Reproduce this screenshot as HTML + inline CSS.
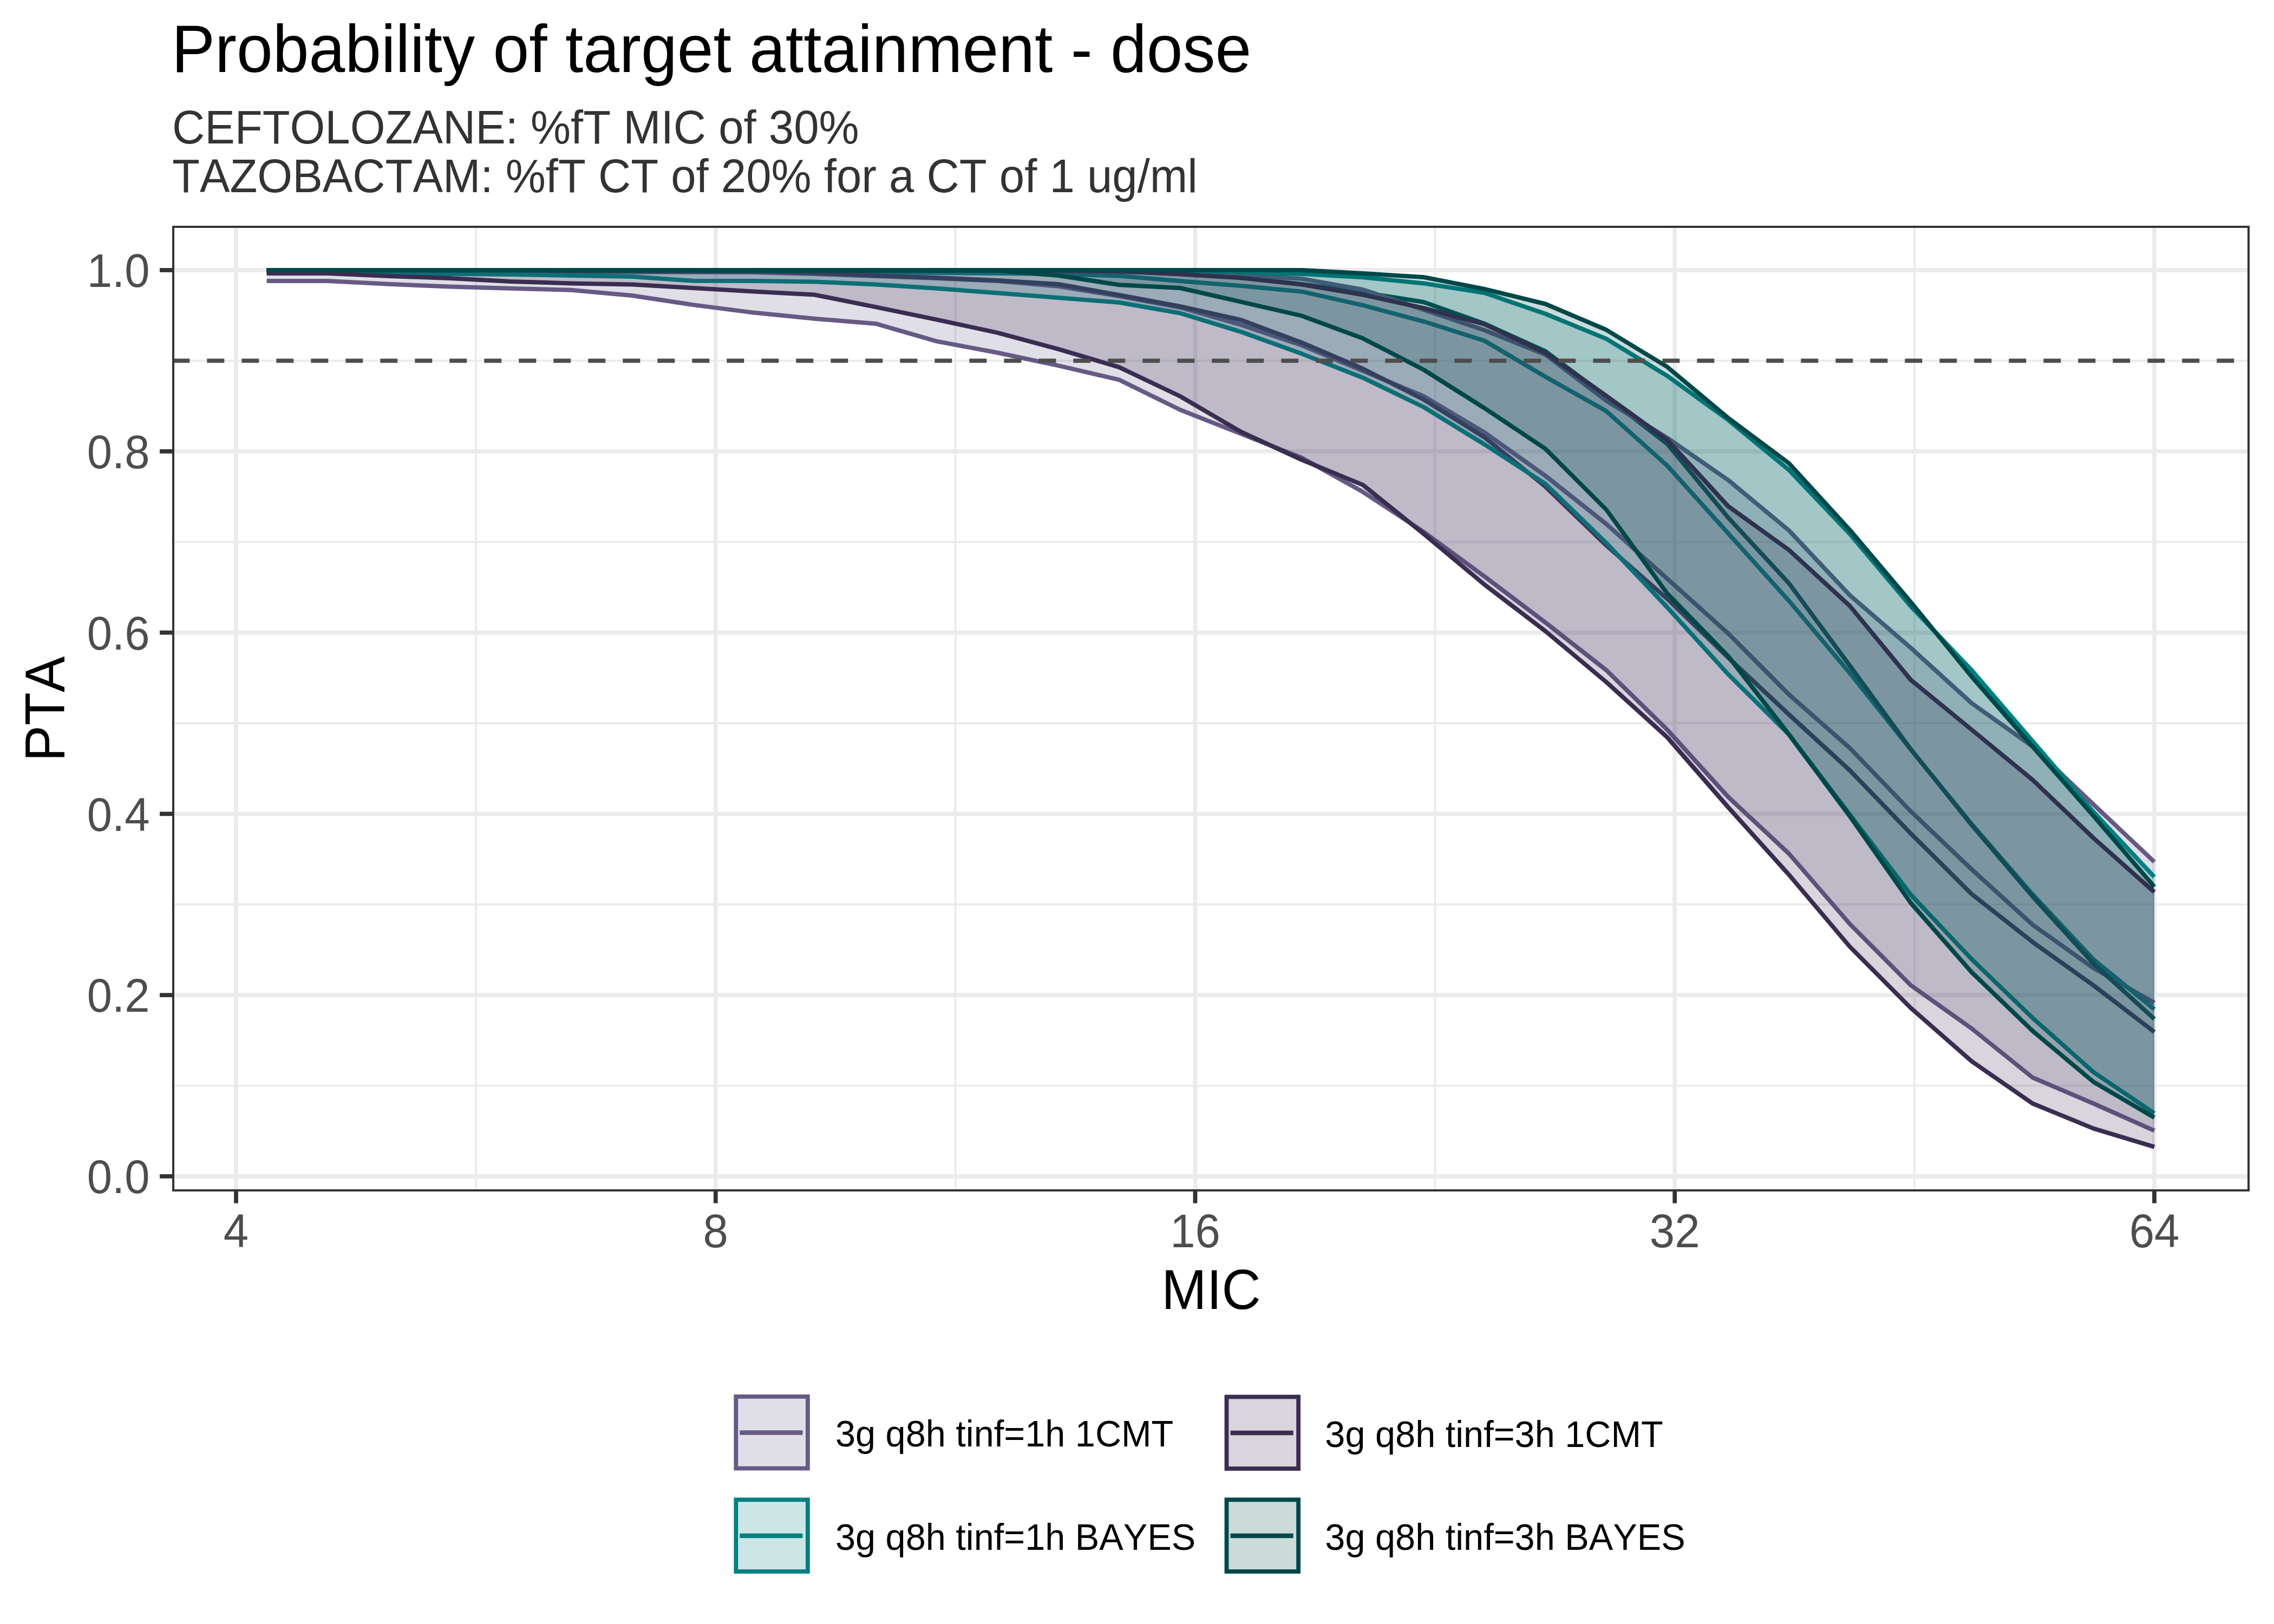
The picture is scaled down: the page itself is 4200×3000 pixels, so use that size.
<!DOCTYPE html>
<html><head><meta charset="utf-8">
<style>
html,body{margin:0;padding:0;background:#fff;}
svg{display:block;}
text{font-family:"Liberation Sans",sans-serif;font-kerning:none;}
.ax{font-size:83.33px;fill:#4D4D4D;}
.lg{font-size:66.67px;fill:#000;}
</style></head>
<body>
<svg width="4200" height="3000" viewBox="0 0 4200 3000">
<rect x="0" y="0" width="4200" height="3000" fill="#FFFFFF"/>
<text transform="translate(317.0,133.0) scale(1,1.041)" style="font-size:120px;fill:#000">Probability of target attainment - dose</text>
<text transform="translate(318.0,265.2) scale(1,1.041)" style="font-size:83.33px;fill:#333333">CEFTOLOZANE: %fT MIC of 30%</text>
<text transform="translate(318.0,355.4) scale(1,1.041)" style="font-size:83.33px;fill:#333333">TAZOBACTAM: %fT CT of 20% for a CT of 1 ug/ml</text>
<line x1="322" x2="4151" y1="2005.6" y2="2005.6" stroke="#EBEBEB" stroke-width="3.9"/>
<line x1="322" x2="4151" y1="1670.8" y2="1670.8" stroke="#EBEBEB" stroke-width="3.9"/>
<line x1="322" x2="4151" y1="1336.0" y2="1336.0" stroke="#EBEBEB" stroke-width="3.9"/>
<line x1="322" x2="4151" y1="1001.2" y2="1001.2" stroke="#EBEBEB" stroke-width="3.9"/>
<line x1="322" x2="4151" y1="666.4" y2="666.4" stroke="#EBEBEB" stroke-width="3.9"/>
<line y1="421" y2="2197" x1="878.9" x2="878.9" stroke="#EBEBEB" stroke-width="3.9"/>
<line y1="421" y2="2197" x1="1764.6" x2="1764.6" stroke="#EBEBEB" stroke-width="3.9"/>
<line y1="421" y2="2197" x1="2650.4" x2="2650.4" stroke="#EBEBEB" stroke-width="3.9"/>
<line y1="421" y2="2197" x1="3536.1" x2="3536.1" stroke="#EBEBEB" stroke-width="3.9"/>
<line x1="322" x2="4151" y1="2173.0" y2="2173.0" stroke="#EBEBEB" stroke-width="7.8"/>
<line x1="322" x2="4151" y1="1838.2" y2="1838.2" stroke="#EBEBEB" stroke-width="7.8"/>
<line x1="322" x2="4151" y1="1503.4" y2="1503.4" stroke="#EBEBEB" stroke-width="7.8"/>
<line x1="322" x2="4151" y1="1168.6" y2="1168.6" stroke="#EBEBEB" stroke-width="7.8"/>
<line x1="322" x2="4151" y1="833.8" y2="833.8" stroke="#EBEBEB" stroke-width="7.8"/>
<line x1="322" x2="4151" y1="499.0" y2="499.0" stroke="#EBEBEB" stroke-width="7.8"/>
<line y1="421" y2="2197" x1="436.0" x2="436.0" stroke="#EBEBEB" stroke-width="7.8"/>
<line y1="421" y2="2197" x1="1321.8" x2="1321.8" stroke="#EBEBEB" stroke-width="7.8"/>
<line y1="421" y2="2197" x1="2207.5" x2="2207.5" stroke="#EBEBEB" stroke-width="7.8"/>
<line y1="421" y2="2197" x1="3093.2" x2="3093.2" stroke="#EBEBEB" stroke-width="7.8"/>
<line y1="421" y2="2197" x1="3979.0" x2="3979.0" stroke="#EBEBEB" stroke-width="7.8"/>
<g>
<polyline points="492.6,501.0 605.1,501.2 717.5,501.5 830.0,501.8 942.5,502.0 1054.9,502.2 1167.4,502.5 1279.9,502.8 1392.3,503.0 1504.8,506.0 1617.2,510.0 1729.7,514.0 1842.2,519.0 1954.6,528.8 2067.1,547.0 2179.6,568.0 2292.0,600.0 2404.5,638.0 2517.0,685.0 2629.4,732.0 2741.9,799.0 2854.4,879.0 2966.8,968.0 3079.3,1069.0 3191.7,1170.0 3304.2,1283.0 3416.7,1382.0 3529.1,1498.7 3641.6,1606.0 3754.1,1708.2 3866.5,1788.3 3979.0,1852.4" fill="none" stroke="#665A85" stroke-width="8" stroke-linejoin="round"/>
<polyline points="492.6,499.0 605.1,499.0 717.5,499.0 830.0,499.0 942.5,499.0 1054.9,499.0 1167.4,499.0 1279.9,499.0 1392.3,499.0 1504.8,501.0 1617.2,503.0 1729.7,504.0 1842.2,505.0 1954.6,506.0 2067.1,509.6 2179.6,519.3 2292.0,528.0 2404.5,538.7 2517.0,563.9 2629.4,593.8 2741.9,629.5 2854.4,696.0 2966.8,759.5 3079.3,860.2 3191.7,985.0 3304.2,1110.0 3416.7,1243.6 3529.1,1384.5 3641.6,1522.4 3754.1,1652.0 3866.5,1772.3 3979.0,1864.4" fill="none" stroke="#008080" stroke-width="8" stroke-linejoin="round"/>
<polyline points="492.6,500.0 605.1,500.1 717.5,500.2 830.0,500.4 942.5,500.5 1054.9,500.6 1167.4,500.8 1279.9,500.9 1392.3,501.0 1504.8,504.0 1617.2,509.0 1729.7,513.0 1842.2,518.0 1954.6,525.0 2067.1,545.0 2179.6,566.0 2292.0,591.0 2404.5,633.0 2517.0,681.0 2629.4,738.0 2741.9,808.0 2854.4,899.0 2966.8,1007.6 3079.3,1106.2 3191.7,1214.5 3304.2,1320.0 3416.7,1423.3 3529.1,1539.7 3641.6,1651.7 3754.1,1740.2 3866.5,1820.3 3979.0,1906.4" fill="none" stroke="#3A2D50" stroke-width="8" stroke-linejoin="round"/>
<polyline points="492.6,499.0 605.1,499.0 717.5,499.0 830.0,499.0 942.5,499.0 1054.9,499.0 1167.4,499.0 1279.9,499.0 1392.3,499.0 1504.8,499.0 1617.2,499.0 1729.7,499.0 1842.2,499.0 1954.6,500.0 2067.1,501.0 2179.6,506.0 2292.0,513.0 2404.5,525.0 2517.0,540.0 2629.4,558.0 2741.9,598.0 2854.4,649.0 2966.8,733.0 3079.3,820.0 3191.7,956.0 3304.2,1077.6 3416.7,1230.0 3529.1,1384.0 3641.6,1524.0 3754.1,1656.0 3866.5,1780.0 3979.0,1882.4" fill="none" stroke="#004848" stroke-width="8" stroke-linejoin="round"/>
<polygon points="492.6,499.0 605.1,499.0 717.5,499.0 830.0,499.0 942.5,499.0 1054.9,499.0 1167.4,499.0 1279.9,499.0 1392.3,499.0 1504.8,499.0 1617.2,499.0 1729.7,499.0 1842.2,499.0 1954.6,501.0 2067.1,502.0 2179.6,505.0 2292.0,508.0 2404.5,515.0 2517.0,535.0 2629.4,572.0 2741.9,610.0 2854.4,655.0 2966.8,740.3 3079.3,808.8 3191.7,886.7 3304.2,980.0 3416.7,1099.8 3529.1,1196.8 3641.6,1299.0 3754.1,1379.0 3866.5,1486.0 3979.0,1592.1 3979.0,2088.6 3866.5,2038.5 3754.1,1990.5 3641.6,1900.0 3529.1,1820.0 3416.7,1707.0 3304.2,1577.0 3191.7,1472.0 3079.3,1348.0 2966.8,1238.0 2854.4,1150.0 2741.9,1065.0 2629.4,982.5 2517.0,908.6 2404.5,845.8 2292.0,801.4 2179.6,757.0 2067.1,701.6 1954.6,675.3 1842.2,651.5 1729.7,630.4 1617.2,597.9 1504.8,588.7 1392.3,577.6 1279.9,563.1 1167.4,546.0 1054.9,535.7 942.5,532.7 830.0,529.6 717.5,524.7 605.1,519.0 492.6,519.0" fill="#665A85" fill-opacity="0.2" stroke="none"/>
<polyline points="492.6,499.0 605.1,499.0 717.5,499.0 830.0,499.0 942.5,499.0 1054.9,499.0 1167.4,499.0 1279.9,499.0 1392.3,499.0 1504.8,499.0 1617.2,499.0 1729.7,499.0 1842.2,499.0 1954.6,501.0 2067.1,502.0 2179.6,505.0 2292.0,508.0 2404.5,515.0 2517.0,535.0 2629.4,572.0 2741.9,610.0 2854.4,655.0 2966.8,740.3 3079.3,808.8 3191.7,886.7 3304.2,980.0 3416.7,1099.8 3529.1,1196.8 3641.6,1299.0 3754.1,1379.0 3866.5,1486.0 3979.0,1592.1" fill="none" stroke="#665A85" stroke-width="8" stroke-linejoin="round"/>
<polyline points="492.6,519.0 605.1,519.0 717.5,524.7 830.0,529.6 942.5,532.7 1054.9,535.7 1167.4,546.0 1279.9,563.1 1392.3,577.6 1504.8,588.7 1617.2,597.9 1729.7,630.4 1842.2,651.5 1954.6,675.3 2067.1,701.6 2179.6,757.0 2292.0,801.4 2404.5,845.8 2517.0,908.6 2629.4,982.5 2741.9,1065.0 2854.4,1150.0 2966.8,1238.0 3079.3,1348.0 3191.7,1472.0 3304.2,1577.0 3416.7,1707.0 3529.1,1820.0 3641.6,1900.0 3754.1,1990.5 3866.5,2038.5 3979.0,2088.6" fill="none" stroke="#665A85" stroke-width="8" stroke-linejoin="round"/>
<polygon points="492.6,499.0 605.1,499.0 717.5,499.0 830.0,499.0 942.5,499.0 1054.9,499.0 1167.4,499.0 1279.9,499.0 1392.3,499.0 1504.8,499.0 1617.2,499.0 1729.7,499.0 1842.2,499.0 1954.6,499.0 2067.1,499.0 2179.6,499.0 2292.0,503.0 2404.5,506.0 2517.0,512.3 2629.4,523.4 2741.9,541.0 2854.4,579.8 2966.8,625.9 3079.3,694.3 3191.7,775.6 3304.2,868.2 3416.7,986.5 3529.1,1120.0 3641.6,1238.0 3754.1,1369.2 3866.5,1499.8 3979.0,1620.1 3979.0,2056.6 3866.5,1980.5 3754.1,1880.4 3641.6,1772.0 3529.1,1652.7 3416.7,1505.0 3304.2,1357.0 3191.7,1245.4 3079.3,1122.0 2966.8,1003.0 2854.4,893.8 2741.9,821.0 2629.4,752.0 2517.0,697.7 2404.5,653.6 2292.0,613.0 2179.6,578.5 2067.1,558.8 1954.6,549.9 1842.2,541.2 1729.7,532.8 1617.2,525.4 1504.8,520.5 1392.3,519.0 1279.9,518.8 1167.4,511.0 1054.9,509.0 942.5,507.0 830.0,506.0 717.5,505.0 605.1,499.0 492.6,499.0" fill="#008080" fill-opacity="0.2" stroke="none"/>
<polyline points="492.6,499.0 605.1,499.0 717.5,499.0 830.0,499.0 942.5,499.0 1054.9,499.0 1167.4,499.0 1279.9,499.0 1392.3,499.0 1504.8,499.0 1617.2,499.0 1729.7,499.0 1842.2,499.0 1954.6,499.0 2067.1,499.0 2179.6,499.0 2292.0,503.0 2404.5,506.0 2517.0,512.3 2629.4,523.4 2741.9,541.0 2854.4,579.8 2966.8,625.9 3079.3,694.3 3191.7,775.6 3304.2,868.2 3416.7,986.5 3529.1,1120.0 3641.6,1238.0 3754.1,1369.2 3866.5,1499.8 3979.0,1620.1" fill="none" stroke="#008080" stroke-width="8" stroke-linejoin="round"/>
<polyline points="492.6,499.0 605.1,499.0 717.5,505.0 830.0,506.0 942.5,507.0 1054.9,509.0 1167.4,511.0 1279.9,518.8 1392.3,519.0 1504.8,520.5 1617.2,525.4 1729.7,532.8 1842.2,541.2 1954.6,549.9 2067.1,558.8 2179.6,578.5 2292.0,613.0 2404.5,653.6 2517.0,697.7 2629.4,752.0 2741.9,821.0 2854.4,893.8 2966.8,1003.0 3079.3,1122.0 3191.7,1245.4 3304.2,1357.0 3416.7,1505.0 3529.1,1652.7 3641.6,1772.0 3754.1,1880.4 3866.5,1980.5 3979.0,2056.6" fill="none" stroke="#008080" stroke-width="8" stroke-linejoin="round"/>
<polygon points="492.6,499.0 605.1,499.1 717.5,499.2 830.0,499.2 942.5,499.3 1054.9,499.4 1167.4,499.5 1279.9,499.5 1392.3,499.6 1504.8,499.7 1617.2,499.8 1729.7,499.8 1842.2,499.9 1954.6,500.0 2067.1,501.0 2179.6,506.5 2292.0,513.3 2404.5,525.5 2517.0,544.5 2629.4,569.2 2741.9,599.0 2854.4,651.8 2966.8,731.2 3079.3,812.5 3191.7,935.0 3304.2,1016.0 3416.7,1119.5 3529.1,1255.9 3641.6,1348.0 3754.1,1440.6 3866.5,1548.0 3979.0,1648.1 3979.0,2118.6 3866.5,2084.6 3754.1,2038.5 3641.6,1960.5 3529.1,1862.0 3416.7,1749.0 3304.2,1616.0 3191.7,1491.0 3079.3,1362.0 2966.8,1260.0 2854.4,1166.0 2741.9,1080.0 2629.4,986.2 2517.0,895.6 2404.5,849.5 2292.0,797.7 2179.6,732.0 2067.1,678.4 1954.6,644.9 1842.2,614.6 1729.7,590.3 1617.2,567.1 1504.8,544.6 1392.3,538.6 1279.9,532.0 1167.4,525.4 1054.9,523.5 942.5,520.0 830.0,514.0 717.5,510.0 605.1,505.0 492.6,505.0" fill="#3A2D50" fill-opacity="0.2" stroke="none"/>
<polyline points="492.6,499.0 605.1,499.1 717.5,499.2 830.0,499.2 942.5,499.3 1054.9,499.4 1167.4,499.5 1279.9,499.5 1392.3,499.6 1504.8,499.7 1617.2,499.8 1729.7,499.8 1842.2,499.9 1954.6,500.0 2067.1,501.0 2179.6,506.5 2292.0,513.3 2404.5,525.5 2517.0,544.5 2629.4,569.2 2741.9,599.0 2854.4,651.8 2966.8,731.2 3079.3,812.5 3191.7,935.0 3304.2,1016.0 3416.7,1119.5 3529.1,1255.9 3641.6,1348.0 3754.1,1440.6 3866.5,1548.0 3979.0,1648.1" fill="none" stroke="#3A2D50" stroke-width="8" stroke-linejoin="round"/>
<polyline points="492.6,505.0 605.1,505.0 717.5,510.0 830.0,514.0 942.5,520.0 1054.9,523.5 1167.4,525.4 1279.9,532.0 1392.3,538.6 1504.8,544.6 1617.2,567.1 1729.7,590.3 1842.2,614.6 1954.6,644.9 2067.1,678.4 2179.6,732.0 2292.0,797.7 2404.5,849.5 2517.0,895.6 2629.4,986.2 2741.9,1080.0 2854.4,1166.0 2966.8,1260.0 3079.3,1362.0 3191.7,1491.0 3304.2,1616.0 3416.7,1749.0 3529.1,1862.0 3641.6,1960.5 3754.1,2038.5 3866.5,2084.6 3979.0,2118.6" fill="none" stroke="#3A2D50" stroke-width="8" stroke-linejoin="round"/>
<polygon points="492.6,499.0 605.1,499.0 717.5,499.0 830.0,499.0 942.5,499.0 1054.9,499.0 1167.4,499.0 1279.9,499.0 1392.3,499.0 1504.8,499.0 1617.2,499.0 1729.7,499.0 1842.2,499.0 1954.6,499.0 2067.1,499.0 2179.6,499.0 2292.0,499.0 2404.5,499.0 2517.0,505.0 2629.4,512.0 2741.9,534.0 2854.4,561.5 2966.8,609.3 3079.3,677.7 3191.7,771.9 3304.2,855.9 3416.7,979.1 3529.1,1112.0 3641.6,1250.0 3754.1,1379.0 3866.5,1507.1 3979.0,1638.1 3979.0,2064.6 3866.5,1998.5 3754.1,1904.4 3641.6,1796.0 3529.1,1668.0 3416.7,1508.0 3304.2,1356.9 3191.7,1212.0 3079.3,1096.3 2966.8,941.5 2854.4,829.1 2741.9,754.0 2629.4,683.0 2517.0,625.0 2404.5,583.4 2292.0,557.6 2179.6,532.0 2067.1,526.2 1954.6,509.0 1842.2,500.0 1729.7,499.9 1617.2,499.8 1504.8,499.8 1392.3,499.7 1279.9,499.6 1167.4,499.5 1054.9,499.4 942.5,499.3 830.0,499.2 717.5,499.2 605.1,499.1 492.6,499.0" fill="#004848" fill-opacity="0.2" stroke="none"/>
<polyline points="492.6,499.0 605.1,499.0 717.5,499.0 830.0,499.0 942.5,499.0 1054.9,499.0 1167.4,499.0 1279.9,499.0 1392.3,499.0 1504.8,499.0 1617.2,499.0 1729.7,499.0 1842.2,499.0 1954.6,499.0 2067.1,499.0 2179.6,499.0 2292.0,499.0 2404.5,499.0 2517.0,505.0 2629.4,512.0 2741.9,534.0 2854.4,561.5 2966.8,609.3 3079.3,677.7 3191.7,771.9 3304.2,855.9 3416.7,979.1 3529.1,1112.0 3641.6,1250.0 3754.1,1379.0 3866.5,1507.1 3979.0,1638.1" fill="none" stroke="#004848" stroke-width="8" stroke-linejoin="round"/>
<polyline points="492.6,499.0 605.1,499.1 717.5,499.2 830.0,499.2 942.5,499.3 1054.9,499.4 1167.4,499.5 1279.9,499.6 1392.3,499.7 1504.8,499.8 1617.2,499.8 1729.7,499.9 1842.2,500.0 1954.6,509.0 2067.1,526.2 2179.6,532.0 2292.0,557.6 2404.5,583.4 2517.0,625.0 2629.4,683.0 2741.9,754.0 2854.4,829.1 2966.8,941.5 3079.3,1096.3 3191.7,1212.0 3304.2,1356.9 3416.7,1508.0 3529.1,1668.0 3641.6,1796.0 3754.1,1904.4 3866.5,1998.5 3979.0,2064.6" fill="none" stroke="#004848" stroke-width="8" stroke-linejoin="round"/>
</g>
<line x1="318.3" x2="4153" y1="666.3" y2="666.3" stroke="#4D4D4D" stroke-width="7.8" stroke-dasharray="32 32"/>
<rect x="320" y="419" width="3833" height="1780" fill="none" stroke="#333333" stroke-width="4"/>
<line x1="295" x2="320" y1="2173.0" y2="2173.0" stroke="#333333" stroke-width="7.8"/>
<text transform="translate(276.5,2204.2) scale(1,1.041)" text-anchor="end" class="ax">0.0</text>
<line x1="295" x2="320" y1="1838.2" y2="1838.2" stroke="#333333" stroke-width="7.8"/>
<text transform="translate(276.5,1869.4) scale(1,1.041)" text-anchor="end" class="ax">0.2</text>
<line x1="295" x2="320" y1="1503.4" y2="1503.4" stroke="#333333" stroke-width="7.8"/>
<text transform="translate(276.5,1534.6) scale(1,1.041)" text-anchor="end" class="ax">0.4</text>
<line x1="295" x2="320" y1="1168.6" y2="1168.6" stroke="#333333" stroke-width="7.8"/>
<text transform="translate(276.5,1199.8) scale(1,1.041)" text-anchor="end" class="ax">0.6</text>
<line x1="295" x2="320" y1="833.8" y2="833.8" stroke="#333333" stroke-width="7.8"/>
<text transform="translate(276.5,865.0) scale(1,1.041)" text-anchor="end" class="ax">0.8</text>
<line x1="295" x2="320" y1="499.0" y2="499.0" stroke="#333333" stroke-width="7.8"/>
<text transform="translate(276.5,530.2) scale(1,1.041)" text-anchor="end" class="ax">1.0</text>
<line x1="436.0" x2="436.0" y1="2199" y2="2222.7" stroke="#333333" stroke-width="7.8"/>
<text transform="translate(436.0,2303.5) scale(1,1.041)" text-anchor="middle" class="ax">4</text>
<line x1="1321.8" x2="1321.8" y1="2199" y2="2222.7" stroke="#333333" stroke-width="7.8"/>
<text transform="translate(1321.8,2303.5) scale(1,1.041)" text-anchor="middle" class="ax">8</text>
<line x1="2207.5" x2="2207.5" y1="2199" y2="2222.7" stroke="#333333" stroke-width="7.8"/>
<text transform="translate(2207.5,2303.5) scale(1,1.041)" text-anchor="middle" class="ax">16</text>
<line x1="3093.2" x2="3093.2" y1="2199" y2="2222.7" stroke="#333333" stroke-width="7.8"/>
<text transform="translate(3093.2,2303.5) scale(1,1.041)" text-anchor="middle" class="ax">32</text>
<line x1="3979.0" x2="3979.0" y1="2199" y2="2222.7" stroke="#333333" stroke-width="7.8"/>
<text transform="translate(3979.0,2303.5) scale(1,1.041)" text-anchor="middle" class="ax">64</text>
<text transform="translate(2237.0,2417.5) scale(1,1.041)" text-anchor="middle" style="font-size:100px;fill:#000">MIC</text>
<text transform="translate(119.0,1309.5) rotate(-90) scale(1,1.041)" text-anchor="middle" style="font-size:100px;fill:#000">PTA</text>
<rect x="1359.3" y="2579.9" width="132.6" height="132.6" fill="#665A85" fill-opacity="0.2" stroke="#665A85" stroke-width="7.8"/>
<line x1="1366.4" x2="1482.4" y1="2646.5" y2="2646.5" stroke="#665A85" stroke-width="8.4"/>
<text transform="translate(1542.9,2672.0) scale(1,1.041)" class="lg">3g q8h tinf=1h 1CMT</text>
<rect x="2265.5" y="2580.4" width="132.6" height="132.6" fill="#3A2D50" fill-opacity="0.2" stroke="#3A2D50" stroke-width="7.8"/>
<line x1="2272.6" x2="2388.6" y1="2647.0" y2="2647.0" stroke="#3A2D50" stroke-width="8.4"/>
<text transform="translate(2447.3,2672.5) scale(1,1.041)" class="lg">3g q8h tinf=3h 1CMT</text>
<rect x="1359.3" y="2770.4" width="132.6" height="132.6" fill="#008080" fill-opacity="0.2" stroke="#008080" stroke-width="7.8"/>
<line x1="1366.4" x2="1482.4" y1="2837.0" y2="2837.0" stroke="#008080" stroke-width="8.4"/>
<text transform="translate(1542.9,2862.5) scale(1,1.041)" class="lg">3g q8h tinf=1h BAYES</text>
<rect x="2265.5" y="2770.4" width="132.6" height="132.6" fill="#004848" fill-opacity="0.2" stroke="#004848" stroke-width="7.8"/>
<line x1="2272.6" x2="2388.6" y1="2837.0" y2="2837.0" stroke="#004848" stroke-width="8.4"/>
<text transform="translate(2447.3,2862.5) scale(1,1.041)" class="lg">3g q8h tinf=3h BAYES</text>
</svg>
</body></html>
